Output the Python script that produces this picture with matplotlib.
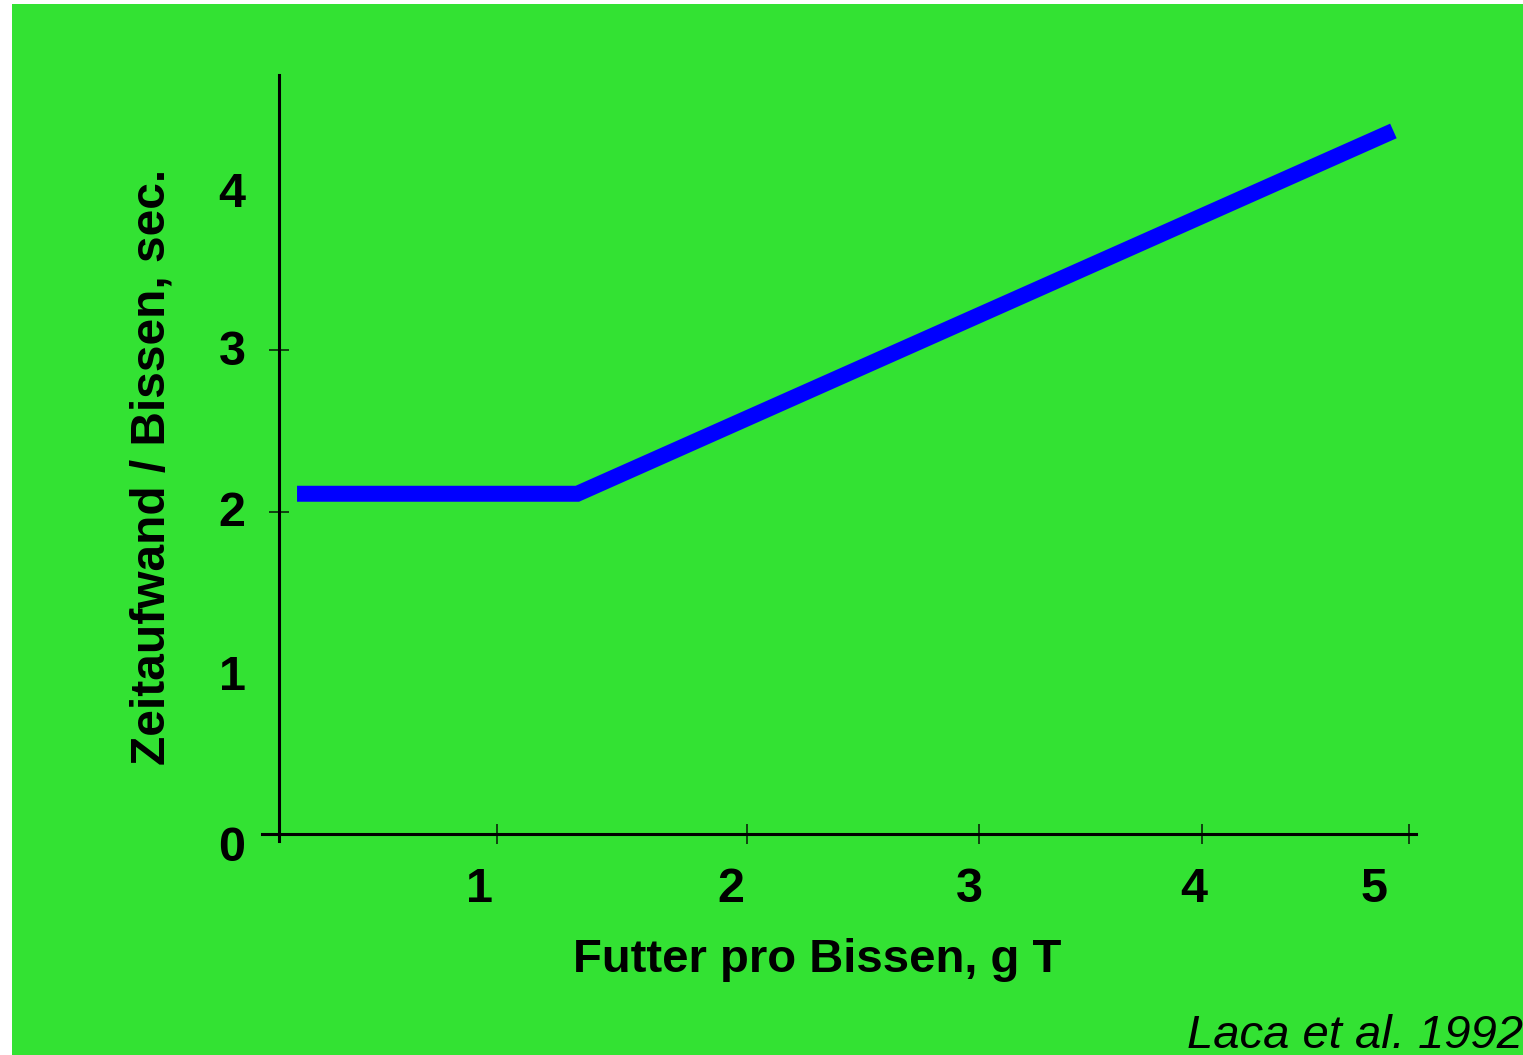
#!/usr/bin/env python3
"""
Bite handling time vs. bite size

Piecewise response: handling time per bite stays flat for small bites,
then rises linearly with the amount of forage taken per bite.
"""

import matplotlib
matplotlib.use("Agg")
import matplotlib.pyplot as plt
from matplotlib.patches import Rectangle
from matplotlib.ticker import FixedLocator, NullFormatter

# Response curve (g DM per bite -> seconds per bite)
bite_size = [0.08, 1.32, 4.93]
time_per_bite = [2.11, 2.11, 4.36]

# Axis ticks; the slide places the numbers slightly off the tick marks
x_tick_marks = [0.965, 2.071, 3.097, 4.084, 5.0]
x_label_pos = [0.889, 2.0, 3.053, 4.049, 4.845]
x_tick_labels = ["1", "2", "3", "4", "5"]
y_tick_marks = [1, 2, 3, 4]
y_label_pos = [-0.056, 1.0, 2.02, 3.02, 4.0]
y_tick_labels = ["0", "1", "2", "3", "4"]

x_title = "Futter pro Bissen, g T"
y_title = "Zeitaufwand / Bissen, sec."
source = "Laca et al. 1992"

BG = "#33e233"
LINE = "#0000ff"
FONT = "Liberation Sans"


def main() -> None:
    fig = plt.figure(figsize=(15.23, 10.55), dpi=100)
    fig.patch.set_facecolor("white")
    # slide background, with a thin white margin on the left and top
    fig.patches.append(Rectangle(
        (12 / 1523, 0), 1 - 12 / 1523, 1 - 4 / 1055,
        transform=fig.transFigure, facecolor=BG, edgecolor="none",
        zorder=-1))

    # y range reaches a bit below the axis line so the "0" label survives
    y_lo, y_hi = -0.2, 4.707
    ax_bottom = 834 + (0 - y_lo) * 161.25
    ax = fig.add_axes([262 / 1523, 1 - ax_bottom / 1055,
                       1154 / 1523, (ax_bottom - 75) / 1055])
    ax.set_zorder(1)
    ax.set_facecolor("none")

    ax.plot(bite_size, time_per_bite, color=LINE, linewidth=11.5,
            solid_capstyle="butt", solid_joinstyle="miter", zorder=3)

    ax.set_xlim(-0.075, 5.03)
    ax.set_ylim(y_lo, y_hi)

    for side in ("top", "right"):
        ax.spines[side].set_visible(False)
    ax.spines["left"].set_position(("data", 0))
    ax.spines["left"].set_bounds(-0.043, y_hi)
    ax.spines["bottom"].set_position(("data", 0))
    for side in ("left", "bottom"):
        ax.spines[side].set_linewidth(2.2)
        ax.spines[side].set_color("black")

    # numbers on major ticks (no marks), marks on minor ticks (no numbers)
    ax.xaxis.set_major_locator(FixedLocator(x_label_pos))
    ax.set_xticklabels(x_tick_labels)
    ax.xaxis.set_minor_locator(FixedLocator(x_tick_marks))
    ax.xaxis.set_minor_formatter(NullFormatter())
    ax.yaxis.set_major_locator(FixedLocator(y_label_pos))
    ax.set_yticklabels(y_tick_labels)
    ax.yaxis.set_minor_locator(FixedLocator(y_tick_marks))
    ax.yaxis.set_minor_formatter(NullFormatter())

    ax.tick_params(which="major", length=0)
    ax.tick_params(axis="x", which="major", pad=24)
    ax.tick_params(axis="y", which="major", pad=24)
    ax.tick_params(which="minor", direction="inout", length=15,
                   width=1.2, color="#0a260a")
    for lab in ax.get_xticklabels() + ax.get_yticklabels():
        lab.set_fontfamily(FONT)
        lab.set_fontweight("bold")
        lab.set_fontsize(35)

    ax.set_xlabel(x_title, fontfamily=FONT, fontweight="bold",
                  fontsize=34, va="baseline")
    ax.xaxis.set_label_coords(0.481, (ax_bottom - 972) / (ax_bottom - 75))
    fig.text(152 / 1523, 1 - 467 / 1055, y_title, rotation=90,
             ha="center", va="center",
             fontfamily=FONT, fontweight="bold", fontsize=34.5)

    fig.text(1187 / 1523, 1 - 1048 / 1055, source, ha="left",
             va="baseline", fontfamily=FONT, fontstyle="italic",
             fontsize=34)

    fig.savefig("out.png", dpi=100, facecolor=fig.get_facecolor())
    plt.close(fig)


if __name__ == "__main__":
    main()
